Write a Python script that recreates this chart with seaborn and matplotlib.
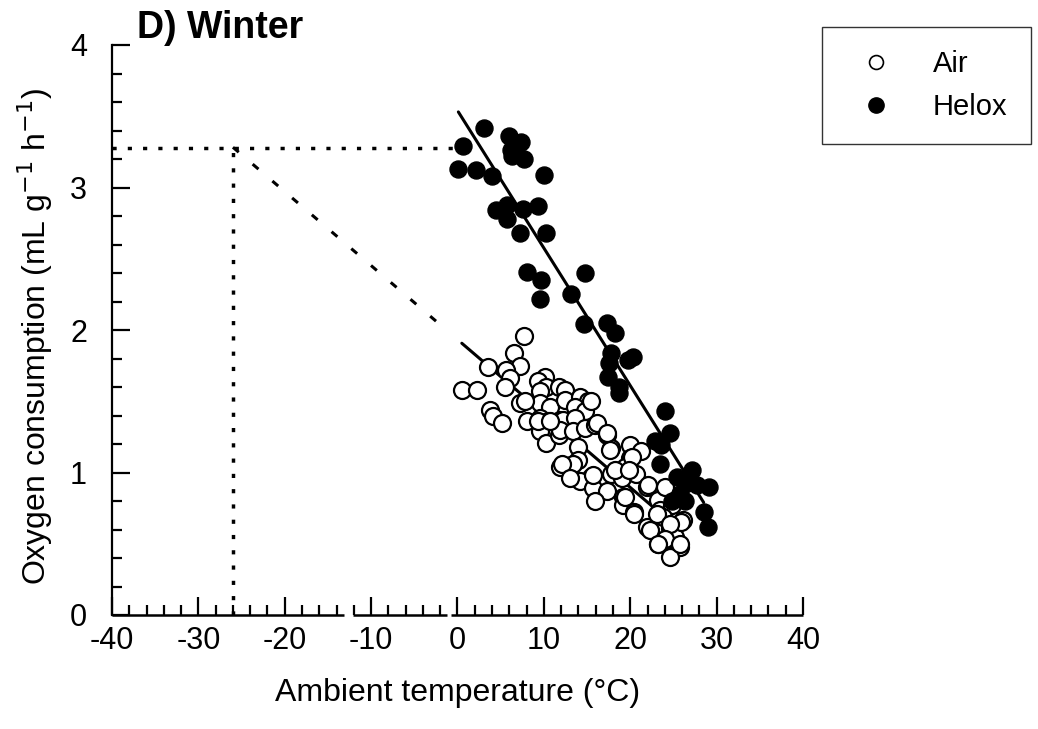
import numpy as np
import pandas as pd
import matplotlib
matplotlib.use("Agg")
import matplotlib.pyplot as plt
from matplotlib.lines import Line2D
from matplotlib.ticker import MultipleLocator
import matplotlib.transforms as mtransforms
import seaborn as sns

# ---------------- data ----------------
helox_temp = [0.6, 3.1, 0.1, 2.1, 4.0, 6.0, 7.35, 6.2, 6.3, 7.7, 6.8, 10.0, 4.5, 5.7, 5.7,
              7.6, 9.35, 7.2, 10.3, 8.1, 9.7, 9.5, 14.8, 13.1, 14.6, 17.3, 18.2, 17.8, 20.3,
              19.7, 17.5, 17.4, 18.7, 18.7, 24.0, 24.6, 22.9, 23.6, 23.5, 27.1, 25.4, 26.3,
              27.7, 29.1, 25.8, 24.8, 26.3, 28.5, 29.0]
helox_vo2 = [3.29, 3.42, 3.13, 3.12, 3.08, 3.36, 3.32, 3.26, 3.22, 3.20, 3.28, 3.09, 2.84, 2.88, 2.78,
             2.85, 2.87, 2.68, 2.68, 2.41, 2.35, 2.22, 2.40, 2.25, 2.04, 2.05, 1.98, 1.84, 1.81,
             1.79, 1.77, 1.67, 1.60, 1.56, 1.43, 1.28, 1.22, 1.19, 1.06, 1.02, 0.97, 0.92,
             0.91, 0.90, 0.85, 0.80, 0.80, 0.72, 0.62]

air_temp = [7.7, 6.5, 7.2, 3.5, 5.6, 6.1, 5.5, 0.5, 2.2, 7.2, 3.8, 4.1, 5.1, 8.0, 10.1, 9.35,
            10.3, 9.5, 11.8, 12.5, 9.5, 10.7, 12.4, 9.5, 10.5, 11.9, 9.5, 10.3, 11.7, 7.8, 14.2,
            15.1, 13.6, 14.8, 12.2, 13.6, 11.9, 13.4, 14.8, 15.9, 14.0, 17.3, 17.8, 20.0, 11.9,
            14.0, 17.6, 21.3, 13.4, 12.1, 20.0, 19.4, 15.5, 14.2, 13.0, 17.8, 19.0, 20.7, 21.9,
            15.7, 17.3, 19.2, 15.9, 19.2, 20.4, 23.2, 23.5, 24.8, 26.1, 21.9, 23.1, 24.6, 23.2,
            24.4, 25.8, 24.6, 25.2, 23.8, 15.5, 16.1, 17.3, 20.2, 15.7, 18.2, 19.8, 22.1, 24.0,
            19.4, 20.4, 23.1, 25.9, 22.3, 24.6, 24.0, 25.8, 23.2, 9.35, 10.7]
air_vo2 = [1.96, 1.84, 1.75, 1.74, 1.72, 1.66, 1.60, 1.58, 1.58, 1.49, 1.44, 1.40, 1.35, 1.36, 1.67, 1.64,
           1.60, 1.57, 1.60, 1.58, 1.49, 1.46, 1.51, 1.38, 1.36, 1.37, 1.29, 1.21, 1.26, 1.50, 1.53,
           1.50, 1.46, 1.43, 1.37, 1.38, 1.30, 1.29, 1.31, 1.33, 1.18, 1.26, 1.17, 1.19, 1.04,
           1.09, 1.16, 1.15, 1.06, 1.06, 1.10, 1.04, 0.97, 0.94, 0.96, 0.99, 0.96, 0.99, 0.90,
           0.89, 0.87, 0.83, 0.80, 0.77, 0.72, 0.81, 0.74, 0.77, 0.67, 0.62, 0.60, 0.61, 0.50,
           0.53, 0.48, 0.41, 0.55, 0.69, 1.50, 1.35, 1.28, 1.11, 0.98, 1.02, 1.02, 0.91, 0.90,
           0.83, 0.71, 0.71, 0.65, 0.60, 0.64, 0.53, 0.50, 0.50, 1.36, 1.36]

# regression lines (intercept, slope) and their x-ranges
air_intercept, air_slope = 1.933, -0.0519
helox_intercept, helox_slope = 3.54, -0.0965
air_fit_range = [0.5, 24.0]
helox_fit_range = [0.1, 28.5]
air_extrap_range = [-26.0, -1.0]
lower_critical_temp = -26.0
max_vo2 = 3.28
helox_first_temp = 0.0

# x-axis line drawn in pieces (small breaks as in the original figure)
x_axis_pieces = [(-40, -13.1), (-12.1, -1.2), (-0.8, 40)]

x_ticks = [-40, -30, -20, -10, 0, 10, 20, 30, 40]
x_tick_labels = ["-40", "-30", "-20", "-10", "0", "10", "20", "30", "40"]
y_ticks = [0, 1, 2, 3, 4]
y_tick_labels = ["0", "1", "2", "3", "4"]

# ---------------- figure ----------------
sns.set_style("ticks")
plt.rcParams["font.family"] = ["Liberation Sans", "DejaVu Sans"]
plt.rcParams["axes.unicode_minus"] = False
plt.rcParams["text.color"] = "black"
plt.rcParams["axes.labelcolor"] = "black"
plt.rcParams["xtick.color"] = "black"
plt.rcParams["ytick.color"] = "black"

W, H = 1038, 729
fig = plt.figure(figsize=(W / 100, H / 100), dpi=100)
ax = fig.add_axes([112 / W, 1 - 615 / H, (803 - 112) / W, (615 - 45) / H])

air_df = pd.DataFrame({"temp": air_temp, "vo2": air_vo2, "gas": "Air"})
helox_df = pd.DataFrame({"temp": helox_temp, "vo2": helox_vo2, "gas": "Helox"})

# regression + extrapolation lines
xa = np.array(air_fit_range)
ax.plot(xa, air_intercept + air_slope * xa, color="black", lw=2.2, zorder=1)
xe = np.array(air_extrap_range)
ax.plot(xe, air_intercept + air_slope * xe, color="black", lw=2.2,
        dashes=(2.5, 6), zorder=1)
xh = np.array(helox_fit_range)
ax.plot(xh, helox_intercept + helox_slope * xh, color="black", lw=2.2, zorder=4)

# dotted guide lines
ax.plot([-40, helox_first_temp], [max_vo2, max_vo2], color="black", lw=2.5,
        dashes=(1.2, 3.2), zorder=1, clip_on=False)
ax.plot([lower_critical_temp, lower_critical_temp], [0, max_vo2], color="black",
        lw=2.5, dashes=(1.2, 3.2), zorder=1)

sns.scatterplot(data=air_df, x="temp", y="vo2", ax=ax, color="white",
                edgecolor="black", linewidth=1.6, s=150, zorder=2, legend=False)
sns.scatterplot(data=helox_df, x="temp", y="vo2", ax=ax, color="black",
                edgecolor="black", linewidth=1.0, s=150, zorder=3, legend=False)

ax.set_xlim(-40, 40)
ax.set_ylim(0, 4)
ax.set_xticks(x_ticks)
ax.set_xticklabels(x_tick_labels)
ax.set_yticks(y_ticks)
ax.set_yticklabels(y_tick_labels)
ax.xaxis.set_minor_locator(MultipleLocator(2))
ax.yaxis.set_minor_locator(MultipleLocator(0.2))
ax.tick_params(axis="both", which="major", direction="in", length=13, width=1.6,
               labelsize=22, color="black", labelcolor="black")
ax.tick_params(axis="both", which="minor", direction="in", length=7, width=1.6,
               color="black")
ax.tick_params(axis="x", which="major", pad=8)
ax.tick_params(axis="y", which="major", pad=18)

for s in ["top", "right", "bottom"]:
    ax.spines[s].set_visible(False)
ax.spines["left"].set_linewidth(1.6)
ax.spines["left"].set_color("black")

# bottom axis line with small breaks
trans = mtransforms.blended_transform_factory(ax.transData, ax.transAxes)
for x0, x1 in x_axis_pieces:
    ax.plot([x0, x1], [0, 0], color="black", lw=1.8, transform=trans,
            clip_on=False, solid_capstyle="butt", zorder=5)

ax.set_xlabel("Ambient temperature (\u00b0C)", fontsize=23)
ax.set_ylabel("Oxygen consumption (mL g$^{-1}$ h$^{-1}$)", fontsize=23)
ax.xaxis.set_label_coords(0.5, -0.11)
ax.yaxis.set_label_coords(-0.082, 0.488)

fig.text(137 / W, 1 - 38 / H, "D) Winter", fontsize=27, fontweight="bold",
         ha="left", va="baseline")

handles = [
    Line2D([], [], marker="o", ls="", mfc="white", mec="black", ms=10, mew=1.2, label="Air"),
    Line2D([], [], marker="o", ls="", mfc="black", mec="black", ms=11, label="Helox"),
]
leg = fig.legend(handles=handles, loc="upper left",
                 bbox_to_anchor=(822 / W, 1 - 27 / H), bbox_transform=fig.transFigure,
                 fontsize=21, frameon=True, fancybox=False, borderpad=0.8,
                 handlelength=2.1, handletextpad=0.9, labelspacing=0.5,
                 borderaxespad=0)
leg.get_frame().set_edgecolor("black")
leg.get_frame().set_linewidth(1.0)

fig.savefig("out.png", dpi=100)
